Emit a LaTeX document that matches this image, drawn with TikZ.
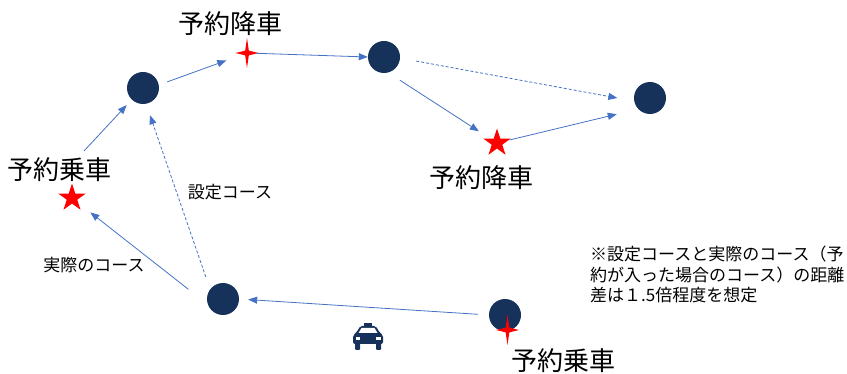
\documentclass[tikz,border=0pt]{standalone}
\usepackage{fontspec}
\setmainfont{Noto Sans CJK JP}
\usetikzlibrary{arrows.meta,shapes.geometric}
\definecolor{stopblue}{HTML}{17325A}
\definecolor{flowblue}{HTML}{4472C4}
\tikzset{
  stopnode/.style={circle,fill=stopblue,inner sep=0pt,minimum size=32pt},
  starbig/.style={star,star points=5,star point ratio=2.618,fill=red,inner sep=0pt,minimum size=29pt},
  starthin/.style={star,star points=4,star point ratio=4.5,fill=red,inner sep=0pt,minimum size=30pt,xscale=0.77},
  biglabel/.style={font=\fontsize{26pt}{28pt}\selectfont,inner sep=0pt},
  smalllabel/.style={font=\fontsize{17pt}{20.5pt}\selectfont,inner sep=0pt},
  flow/.style={draw=flowblue,line width=0.8pt,-{Triangle[length=9pt,width=7pt]}},
  flowdash/.style={flow,dash pattern=on 3pt off 2pt}
}
\begin{document}
\begin{tikzpicture}[x=1pt,y=-1pt]
   \useasboundingbox (0,0) rectangle (847,374);
   \node[stopnode](c_1) at (143,88){};
   \node[stopnode](c_2) at (384,57){};
   \node[stopnode](c_3) at (650,98){};
   \node[stopnode](c_4) at (223,299){};
   \node[stopnode](c_5) at (505,315){};
   \node[starbig](s_1) at (72,198){};
   \node[starthin](s_2) at (247,53){};
   \node[starbig](s_3) at (497,143){};
   \node[starthin](s_4) at (507.5,330){};
   \coordinate (s_1top) at (84,151);
   \node[biglabel](l_1) at (60,170){予約乗車};
   \node[biglabel](l_2) at (230,24){予約降車};
   \node[biglabel](l_3) at (481,178){予約降車};
   \node[biglabel](l_4) at (563,361){予約乗車};
   \node[smalllabel](l_5) at (230,192){設定コース};
   \node[smalllabel](l_6) at (94,265){実際のコース};
   \node[smalllabel,align=left,anchor=north west](l_7) at (590,246){※設定コースと実際のコース（予\\約が入った場合のコース）の距離\\差は１.5倍程度を想定};
   \draw[flow,shorten <=11pt,shorten >=9pt] (c_5.west) -- (c_4.east);
   \draw[flow,shorten <=24.6pt,shorten >=23.3pt] (c_4.200) -- (s_1.center);
   \draw[flowdash,shorten <=13pt,shorten >=12pt] (c_4.143) -- (c_1.-79);
   \draw[flow,shorten >=7.4pt] (s_1top) -- (c_1.-134);
   \draw[flow,shorten <=8.8pt,shorten >=22pt] (c_1.11) -- (s_2.center);
   \draw[flow,shorten <=9pt] (s_2.center) -- (c_2.west);
   \draw[flow,shorten <=14pt,shorten >=21.6pt] (c_2.-75) -- (s_3.center);
   \draw[flow,shorten <=13pt,shorten >=22pt] (s_3.center) -- (c_3.223);
   \draw[flowdash,shorten <=16.3pt,shorten >=17pt] (c_2.-4) -- (c_3.191);
   % taxi
   \begin{scope}[shift={(368,337)}]
      \fill[stopblue] (-4,-14) rectangle (4,-10);
      \fill[stopblue,rounded corners=2pt] (-15,7) -- (-15,-2) -- (-11,-5) -- (-8,-11) -- (8,-11) -- (11,-5) -- (15,-2) -- (15,7) -- cycle;
      \fill[stopblue,rounded corners=1pt] (-13,5) rectangle (-8,13);
      \fill[stopblue,rounded corners=1pt] (8,5) rectangle (13,13);
      \fill[white] (-9.5,-4) -- (-6.5,-9) -- (6.5,-9) -- (9.5,-4) -- cycle;
      \fill[white] (-12.5,0) rectangle (-8,3);
      \fill[white] (8,0) rectangle (12.5,3);
   \end{scope}
\end{tikzpicture}
\end{document}
